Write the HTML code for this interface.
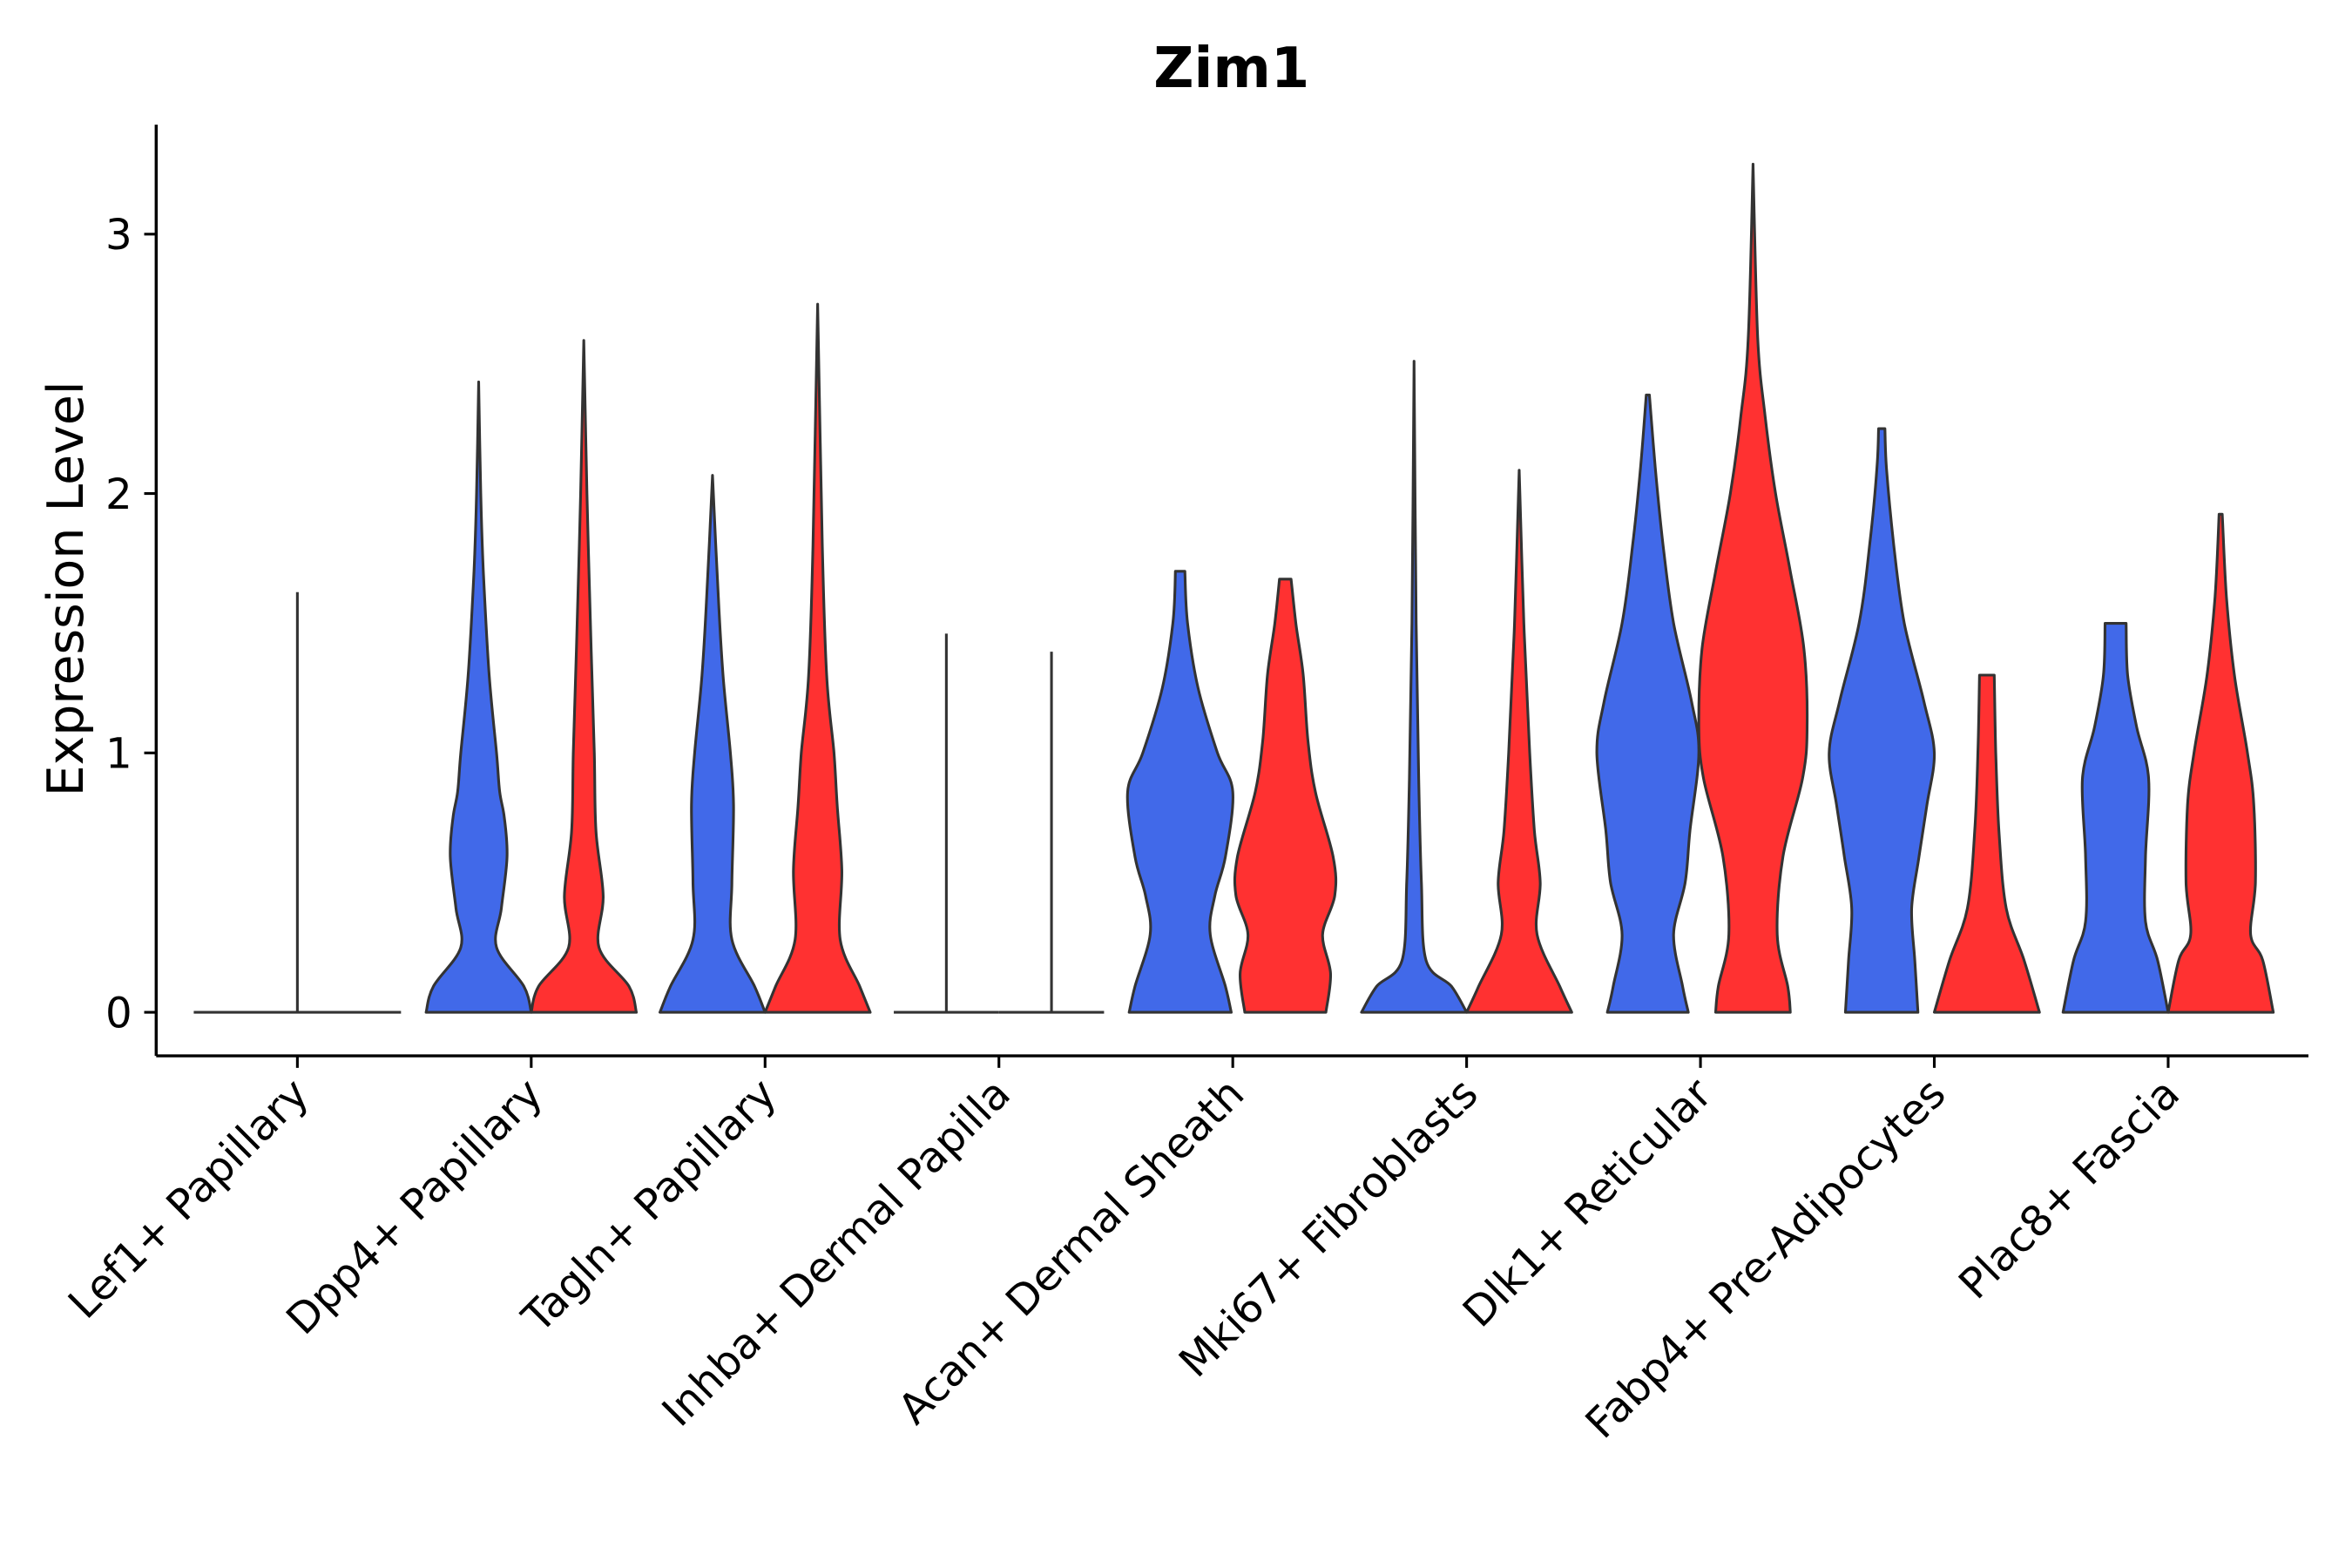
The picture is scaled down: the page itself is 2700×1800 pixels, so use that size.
<!DOCTYPE html>
<html><head><meta charset="utf-8"><style>html,body{margin:0;padding:0;background:#fff}svg{display:block}</style></head>
<body>
<svg id="chart" width="2700" height="1800" viewBox="0 0 1566 1044" preserveAspectRatio="none" xmlns="http://www.w3.org/2000/svg" font-family="DejaVu Sans, Liberation Sans, sans-serif">
<text x="820" y="58" text-anchor="middle" font-size="37" font-weight="bold">Zim1</text>
<text transform="translate(55,392) rotate(-90)" text-anchor="middle" font-size="33">Expression Level</text>
<g id="plot"></g>
</svg>
<script>
const categories = ["Lef1+ Papillary","Dpp4+ Papillary","Tagln+ Papillary","Inhba+ Dermal Papilla","Acan+ Dermal Sheath","Mki67+ Fibroblasts","Dlk1+ Reticular","Fabp4+ Pre-Adipocytes","Plac8+ Fascia"];
const yTicks = [0,1,2,3];
// each violin: [value, relative half-width (0..1)]
const blueProfiles = [
 [[0,0],[1.62,0]],
 [[0,1],[0.1,0.86],[0.25,0.34],[0.4,0.43],[0.6,0.54],[0.75,0.49],[0.85,0.4],[1.0,0.34],[1.3,0.2],[1.7,0.09],[2.0,0.04],[2.43,0]],
 [[0,1],[0.1,0.8],[0.28,0.37],[0.5,0.37],[0.8,0.4],[1.0,0.34],[1.3,0.2],[1.6,0.11],[2.07,0]],
 [[0,0],[1.46,0]],
 [[0,0.97],[0.1,0.86],[0.3,0.57],[0.45,0.66],[0.6,0.86],[0.85,1],[1.0,0.71],[1.25,0.34],[1.5,0.14],[1.7,0.09]],
 [[0,1],[0.1,0.71],[0.2,0.23],[0.5,0.14],[0.9,0.09],[1.5,0.04],[2.51,0]],
 [[0,0.77],[0.1,0.66],[0.3,0.49],[0.5,0.71],[0.7,0.8],[1.0,0.97],[1.2,0.83],[1.5,0.49],[1.8,0.29],[2.1,0.14],[2.38,0.03]],
 [[0,0.69],[0.2,0.63],[0.4,0.57],[0.6,0.71],[0.8,0.86],[1.0,1],[1.2,0.8],[1.5,0.43],[1.8,0.23],[2.1,0.09],[2.25,0.06]],
 [[0,1],[0.2,0.8],[0.35,0.57],[0.6,0.57],[0.9,0.63],[1.1,0.4],[1.3,0.23],[1.5,0.2]]
];
const redProfiles = [
 [[0,0],[0.001,0]],
 [[0,1],[0.1,0.86],[0.25,0.29],[0.45,0.37],[0.7,0.23],[1.0,0.2],[1.4,0.14],[2.0,0.06],[2.59,0]],
 [[0,1],[0.1,0.8],[0.28,0.43],[0.55,0.46],[0.8,0.37],[1.0,0.31],[1.3,0.17],[1.8,0.09],[2.73,0]],
 [[0,0],[1.39,0]],
 [[0,0.77],[0.15,0.86],[0.3,0.71],[0.45,0.94],[0.6,0.91],[0.85,0.57],[1.05,0.43],[1.3,0.34],[1.5,0.2],[1.67,0.11]],
 [[0,1],[0.1,0.77],[0.3,0.34],[0.5,0.4],[0.7,0.29],[1.0,0.2],[1.5,0.09],[2.09,0]],
 [[0,0.71],[0.1,0.66],[0.3,0.46],[0.6,0.57],[0.9,0.94],[1.1,1.03],[1.4,0.97],[1.7,0.71],[2.0,0.43],[2.3,0.23],[2.6,0.09],[3.27,0]],
 [[0,1],[0.2,0.71],[0.4,0.37],[0.7,0.23],[1.0,0.17],[1.3,0.14]],
 [[0,1],[0.2,0.8],[0.3,0.57],[0.5,0.66],[0.8,0.63],[1.0,0.51],[1.3,0.26],[1.6,0.11],[1.92,0.03]]
];
const NS="http://www.w3.org/2000/svg";
const g=document.getElementById('plot');
const X0=104,X1=1537,Y0=83,Y1=703;
const y=v=>674-v*172.7;
const xc=i=>198+i*155.7;
const HW=35;
function el(t,a){const e=document.createElementNS(NS,t);for(const k in a)e.setAttribute(k,a[k]);g.appendChild(e);return e;}
function smooth(pts){
  let d='';
  for(let i=0;i<pts.length-1;i++){
    const p0=pts[Math.max(0,i-1)],p1=pts[i],p2=pts[i+1],p3=pts[Math.min(pts.length-1,i+2)];
    const c1=[p1[0]+(p2[0]-p0[0])/6,p1[1]+(p2[1]-p0[1])/6];
    const c2=[p2[0]-(p3[0]-p1[0])/6,p2[1]-(p3[1]-p1[1])/6];
    d+=` C${c1[0].toFixed(1)},${c1[1].toFixed(1)} ${c2[0].toFixed(1)},${c2[1].toFixed(1)} ${p2[0].toFixed(1)},${p2[1].toFixed(1)}`;
  }
  return d;
}
function violin(cx,prof,fill,name,hw){
  const flat=prof.every(p=>p[1]===0);
  if(flat){
    const l=el('line',{x1:cx-hw,x2:cx+hw,y1:y(0),y2:y(0),stroke:'#333','stroke-width':1.8});
    
    
    const top=prof[prof.length-1][0];
    if(top>0.01){
      const v=el('line',{x1:cx,x2:cx,y1:y(0),y2:y(top),stroke:'#333','stroke-width':1.8});
      
      
    }
    return;
  }
  const right=prof.map(p=>[cx+p[1]*hw,y(p[0])]);
  const left=prof.slice().reverse().map(p=>[cx-p[1]*hw,y(p[0])]);
  let d=`M${right[0][0].toFixed(1)},${right[0][1].toFixed(1)}`+smooth(right);
  d+=` L${left[0][0].toFixed(1)},${left[0][1].toFixed(1)}`+smooth(left)+' Z';
  const p=el('path',{d:d,fill:fill,stroke:'#333','stroke-width':1.8,'stroke-linejoin':'round'});
  
  
}
categories.forEach((c,i)=>{
  const key=c.split(' ')[0].replace('+','').toLowerCase();
  if(i===0){
    violin(xc(i),blueProfiles[i],'#4169E9','violin-'+key,69);
  } else {
    violin(xc(i)-35,blueProfiles[i],'#4169E9','violin-blue-'+key,HW);
    violin(xc(i)+35,redProfiles[i],'#FF3131','violin-red-'+key,HW);
  }
  const t=el('line',{x1:xc(i),x2:xc(i),y1:Y1,y2:Y1+8,stroke:'#000','stroke-width':1.8});
  
  
  const tx=el('text',{transform:`translate(${xc(i)+9},${Y1+27}) rotate(-45)`,'text-anchor':'end','font-size':'28',fill:'#000'});
  tx.textContent=c;
  
  
});
yTicks.forEach(v=>{
  const t=el('line',{x1:X0-8,x2:X0,y1:y(v),y2:y(v),stroke:'#000','stroke-width':1.8});
  
  
  const tx=el('text',{x:X0-16,y:y(v)+10,'text-anchor':'end','font-size':'28'});
  tx.textContent=v;
  
  
});
const ax=el('line',{x1:X0,x2:X1,y1:Y1,y2:Y1,stroke:'#000','stroke-width':2});


const ay=el('line',{x1:X0,x2:X0,y1:Y0,y2:Y1,stroke:'#000','stroke-width':2});


</script>
</body></html>
